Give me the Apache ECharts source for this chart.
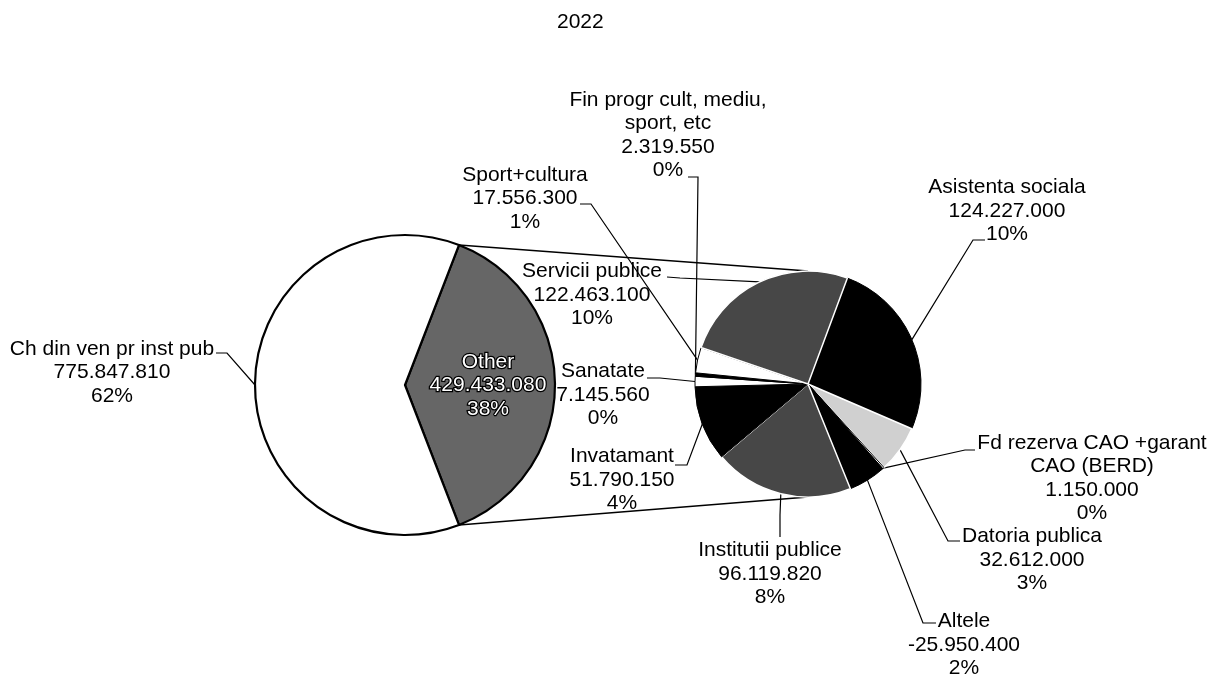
<!DOCTYPE html>
<html><head><meta charset="utf-8">
<script src="https://cdn.jsdelivr.net/npm/echarts@6/dist/echarts.min.js"></script>
<style>html,body{margin:0;padding:0;background:#fff}#c{width:1222px;height:678px}</style>
</head><body><div id="c"></div>
<script>
// ---------- data ----------
const chartTitle = '2022';
const mainNames = ['Ch din ven pr inst pub'];
const mainValues = [775847810];
const mainPercents = [62];          // as printed in the chart
const otherName = 'Other';
const otherPercent = 38;            // as printed in the chart
// secondary pie, clockwise order as drawn
const subNames = ['Asistenta sociala', 'Datoria publica', 'Fd rezerva CAO +garant\nCAO (BERD)', 'Altele',
  'Institutii publice', 'Invatamant', 'Sanatate', 'Fin progr cult, mediu,\nsport, etc', 'Sport+cultura', 'Servicii publice'];
const subValues = [124227000, 32612000, 1150000, -25950400, 96119820, 51790150, 7145560, 2319550, 17556300, 122463100];
const subPercents = [10, 3, 0, 2, 8, 4, 0, 0, 1, 10];   // as printed in the chart

// ---------- layout / style ----------
const FONT = 'Liberation Sans, Arial, sans-serif';
const BIG = { cx: 405, cy: 385, r: 150 };
const SMALL = { cx: 808, cy: 384, r: 113, startAngle: 69.6 };
const subColors = ['#000000', '#d0d0d0', '#ffffff', '#000000', '#474747', '#000000', '#ffffff', '#000000', '#ffffff', '#474747'];
const subBorders = ['#000', '#fff', '#000', '#000', '#fff', '#000', '#000', '#000', '#000', '#fff'];
const bigLabelCfg = [
  { pos: [488, 385.5] },
  { pos: [112, 372.5], via: [[227, 353], [216, 353]] }
];
const subLabelCfg = [
  { pos: [1007, 211], via: [[973, 240], [985, 240]] },
  { pos: [1032, 560], via: [[948, 541], [960, 541]] },
  { pos: [1092, 478], via: [[965, 450], [975, 450]] },
  { pos: [964, 645], via: [[923, 623], [936, 623]] },
  { pos: [770, 574], via: [[780, 515], [780, 537]] },
  { pos: [622, 480], via: [[687, 465], [675, 465]] },
  { pos: [603, 395], via: [[660, 378], [647, 378]] },
  { pos: [668, 135], via: [[698, 177], [688, 177]] },
  { pos: [525, 198.5], via: [[591, 204], [580, 204]] },
  { pos: [592, 295], via: [[680, 278], [667, 277]] }
];

// ---------- derived ----------
function fmt(v) {
  const s = Math.abs(v).toString().replace(/\B(?=(\d{3})+(?!\d))/g, '.');
  return (v < 0 ? '-' : '') + s;
}
const subAbs = subValues.map(Math.abs);
const subAbsSum = subAbs.reduce((a, b) => a + b, 0);
const subSignedSum = subValues.reduce((a, b) => a + b, 0);
const totalAbs = subAbsSum + mainValues.reduce((a, b) => a + Math.abs(b), 0);
const otherShare = subAbsSum / totalAbs;
const bigStart = otherShare * 180;

function arcPoint(c, startDeg, cumBefore, val, tot) {
  const mid = (startDeg - (cumBefore + val / 2) / tot * 360) * Math.PI / 180;
  return [c.cx + c.r * Math.cos(mid), c.cy - c.r * Math.sin(mid)];
}

const bigData = [
  { name: otherName, value: subAbsSum, itemStyle: { color: '#666666' },
    label: { position: 'inside', color: '#fff', textBorderColor: '#000', textBorderWidth: 2.5,
      formatter: otherName + '\n' + fmt(subSignedSum) + '\n' + otherPercent + '%' } },
  { name: mainNames[0], value: mainValues[0], itemStyle: { color: '#ffffff' },
    label: { position: 'outside', formatter: mainNames[0] + '\n' + fmt(mainValues[0]) + '\n' + mainPercents[0] + '%' } }
];
const bigRaw = [subAbsSum, mainValues[0]];

const subData = subNames.map((n, i) => ({
  name: n, value: subAbs[i],
  itemStyle: { color: subColors[i], borderColor: subBorders[i], borderWidth: subBorders[i] === '#fff' ? 1.5 : 1 },
  label: { formatter: n + '\n' + fmt(subValues[i]) + '\n' + subPercents[i] + '%' }
}));

const labelBase = { fontFamily: FONT, fontSize: 21, lineHeight: 23.5, color: '#000' };

// connector lines between pies
const th = otherShare * Math.PI;
const p1 = [BIG.cx + BIG.r * Math.cos(th), BIG.cy - BIG.r * Math.sin(th)];
const p2 = [BIG.cx + BIG.r * Math.cos(th), BIG.cy + BIG.r * Math.sin(th)];
const q1 = [SMALL.cx, SMALL.cy - SMALL.r];
const q2 = [SMALL.cx, SMALL.cy + SMALL.r];

const chart = echarts.init(document.getElementById('c'), null, { renderer: 'canvas' });
chart.setOption({
  animation: false,
  backgroundColor: '#fff',
  title: { text: chartTitle, left: 557, top: 12, padding: 0,
    textStyle: { fontFamily: FONT, fontSize: 21, fontWeight: 'normal', color: '#000' } },
  graphic: [
    { type: 'line', z: 1, shape: { x1: p1[0], y1: p1[1], x2: q1[0], y2: q1[1] }, style: { stroke: '#000', lineWidth: 1.5 } },
    { type: 'line', z: 1, shape: { x1: p2[0], y1: p2[1], x2: q2[0], y2: q2[1] }, style: { stroke: '#000', lineWidth: 1.5 } }
  ],
  series: [
    {
      type: 'pie', name: 'main', center: [BIG.cx, BIG.cy], radius: [0, BIG.r],
      startAngle: bigStart, clockwise: true, avoidLabelOverlap: false, silent: true,
      itemStyle: { borderColor: '#000', borderWidth: 2.2 },
      label: Object.assign({ show: true }, labelBase),
      labelLine: { show: true, smooth: false, length: 10, length2: 10, lineStyle: { color: '#000', width: 1.2 } },
      emphasis: { disabled: true },
      data: bigData,
      labelLayout: function (p) {
        const cfg = bigLabelCfg[p.dataIndex];
        const res = { x: cfg.pos[0], y: cfg.pos[1], align: 'center', verticalAlign: 'middle' };
        if (cfg.via) {
          const cum = bigRaw.slice(0, p.dataIndex).reduce((a, b) => a + b, 0);
          const tot = bigRaw.reduce((a, b) => a + b, 0);
          const start = (p.labelLinePoints && p.labelLinePoints[0]) || arcPoint(BIG, bigStart, cum, bigRaw[p.dataIndex], tot);
          res.labelLinePoints = [start, cfg.via[0], cfg.via[1]];
        }
        return res;
      }
    },
    {
      type: 'pie', name: 'sub', center: [SMALL.cx, SMALL.cy], radius: [0, SMALL.r],
      startAngle: SMALL.startAngle, clockwise: true, avoidLabelOverlap: false, silent: true,
      label: Object.assign({ show: true, position: 'outside' }, labelBase),
      labelLine: { show: true, smooth: false, length: 10, length2: 10, lineStyle: { color: '#000', width: 1.2 } },
      emphasis: { disabled: true },
      data: subData,
      labelLayout: function (p) {
        const cfg = subLabelCfg[p.dataIndex];
        const cum = subAbs.slice(0, p.dataIndex).reduce((a, b) => a + b, 0);
        const start = (p.labelLinePoints && p.labelLinePoints[0]) || arcPoint(SMALL, SMALL.startAngle, cum, subAbs[p.dataIndex], subAbsSum);
        return { x: cfg.pos[0], y: cfg.pos[1], align: 'center', verticalAlign: 'middle',
          labelLinePoints: [start, cfg.via[0], cfg.via[1]] };
      }
    }
  ]
});
</script>
</body></html>
